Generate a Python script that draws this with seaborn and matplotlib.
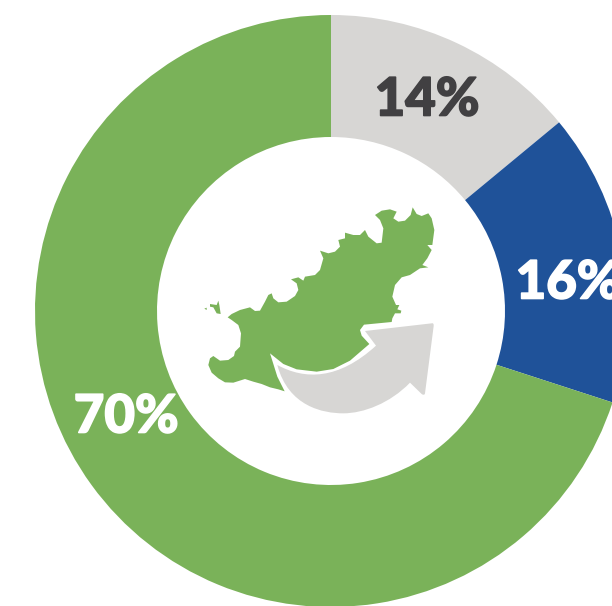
import numpy as np
import matplotlib
matplotlib.use('Agg')
import matplotlib.pyplot as plt
import matplotlib.patheffects as pe
from matplotlib.patches import PathPatch, Polygon
from matplotlib.path import Path
import seaborn as sns

# share of each group, clockwise from 12 o'clock
Categories = ['Grey', 'Blue', 'Green']
Shares = [14, 16, 70]
Share_Labels = ['14%', '16%', '70%']
Colours = ['#D7D6D4', '#1F5299', '#7AB259']
Label_Colours = ['#414042', 'white', 'white']
Label_Pos = [(427, 100), (568, 283), (126, 417)]

# island outline
Island = [(555,75),(575,62),(600,58),(620,65),(610,85),(625,95),(645,92),(662,75),(668,52),(680,72),
          (695,78),(715,70),(725,85),(733,120),(727,165),(712,165),(725,180),(712,205),(697,225),(715,232),
          (690,235),(660,255),(635,262),(615,285),(607,320),(618,345),(628,345),(622,358),(634,362),(632,370),
          (615,370),(607,385),(605,396),(522,404),(510,420),(515,437),(538,462),(480,512),(430,537),(380,545),
          (320,538),(280,522),(240,490),(262,560),(284,604),(265,598),(240,592),(215,582),(190,575),(165,567),
          (130,578),(105,577),(85,565),(65,548),(55,525),(60,505),(70,498),(90,512),(115,510),(132,498),(135,485),
          (150,470),(153,430),(145,405),(125,390),(113,382),(125,372),(150,360),(180,352),(195,363),(210,362),
          (225,335),(235,315),(245,310),(250,325),(265,337),(290,335),(315,318),(325,300),(320,280),(303,268),
          (325,262),(340,272),(345,260),(375,255),(390,240),(400,205),(390,182),(415,190),(435,185),(450,170),
          (445,150),(465,145),(465,128),(490,135),(510,135),(525,120),(535,140),(560,160),(575,158),(580,115),
          (570,90)]
Islet = [(60,342),(80,345),(85,332),(88,345),(92,372),(80,370),(70,352),(60,350)]
Rock = [(43,356),(50,353),(50,360)]


def to_px(pts):
    """Crop coordinates (3x, origin 190,190) to figure pixels, y up."""
    pts = np.array(pts, dtype=float)
    return np.column_stack([190 + pts[:, 0] / 3, 606 - (190 + pts[:, 1] / 3)])


sns.set_theme(style='white')
plt.rcParams['font.family'] = ['Lato', 'DejaVu Sans']

fig = plt.figure(figsize=(6.12, 6.06), dpi=100)
ax = fig.add_axes([0, 0, 1, 1])

ax.pie(Shares, colors=sns.color_palette(Colours), startangle=90, counterclock=False,
       center=(331, 295), radius=296, wedgeprops=dict(width=122, linewidth=0))

for lab, col, (x, y) in zip(Share_Labels, Label_Colours, Label_Pos):
    t = ax.text(x, 606 - y, lab, color=col, fontsize=38, fontweight='black', ha='center', va='center')
    t.set_path_effects([pe.withStroke(linewidth=1.2, foreground=col)])  # Lato here is not heavy enough

for shape in [Island, Islet, Rock]:
    ax.add_patch(Polygon(to_px(shape), closed=True, facecolor=Colours[2], edgecolor='none'))

# grey arrow
arrow_pts = [(262,525),(345,570),(445,570),(558,467),(525,423),(725,400),(732,398),(731,408),(705,610),
             (703,618),(695,612),(660,578),(600,640),(520,670),(460,670),(400,670),(295,650),(262,525)]
arrow_codes = [Path.MOVETO, Path.CURVE4, Path.CURVE4, Path.CURVE4, Path.LINETO, Path.LINETO, Path.CURVE3, Path.CURVE3,
               Path.LINETO, Path.CURVE3, Path.CURVE3, Path.LINETO, Path.CURVE4, Path.CURVE4, Path.CURVE4,
               Path.CURVE4, Path.CURVE4, Path.CURVE4]
ax.add_patch(PathPatch(Path(to_px(arrow_pts), arrow_codes), facecolor=Colours[0], edgecolor='none'))

ax.set_xlim(0, 612)
ax.set_ylim(0, 606)
ax.axis('off')
fig.savefig('out.png', dpi=100)
